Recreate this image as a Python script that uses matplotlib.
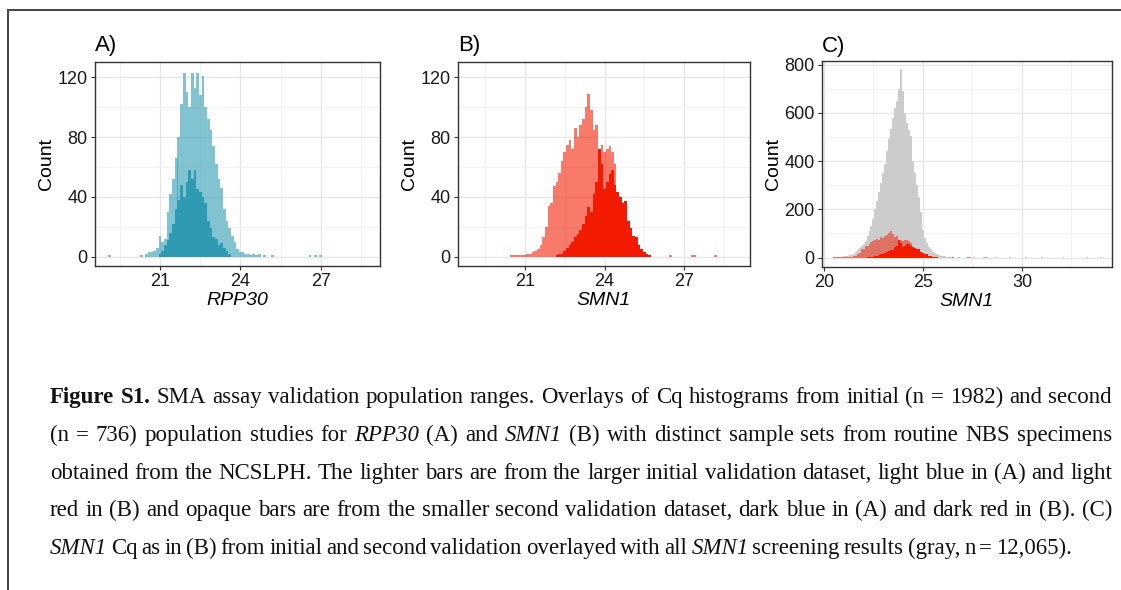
import matplotlib
matplotlib.use("Agg")
import matplotlib.pyplot as plt
from matplotlib.lines import Line2D

W, H = 1121, 590
BINW = 0.1

# ---------------- data (bin centres, counts) ----------------
# Panel A: RPP30, initial validation (light) and second validation (dark)
a_init_x = [19.1, 20.3, 20.5, 20.6, 20.7, 20.8, 20.9, 21.0, 21.1, 21.2, 21.3, 21.4,
            21.5, 21.6, 21.7, 21.8, 21.9, 22.0, 22.1, 22.2, 22.3, 22.4, 22.5, 22.6,
            22.7, 22.8, 22.9, 23.0, 23.1, 23.2, 23.3, 23.4, 23.5, 23.6, 23.7, 23.8,
            23.9, 24.0, 24.1, 24.2, 24.3, 24.4, 24.5, 24.6, 24.7, 24.9, 25.2, 26.6,
            26.8, 27.0]
a_init_n = [1, 1, 2, 3, 3, 4, 6, 14, 10, 12, 30, 42,
            52, 66, 80, 102, 123, 110, 100, 123, 113, 123, 108, 121,
            100, 92, 85, 74, 62, 52, 46, 32, 24, 19, 14, 10,
            5, 3, 3, 2, 2, 1, 2, 1, 2, 1, 1, 1,
            1, 1]
a_sec_x = [21.0, 21.1, 21.2, 21.3, 21.4, 21.5, 21.6, 21.7, 21.8, 21.9, 22.0, 22.1,
           22.2, 22.3, 22.4, 22.5, 22.6, 22.7, 22.8, 22.9, 23.0, 23.1, 23.2, 23.3,
           23.4, 23.5, 23.6]
a_sec_n = [2, 4, 8, 11, 16, 22, 32, 38, 48, 40, 50, 58,
           52, 58, 45, 43, 40, 36, 24, 19, 13, 12, 8, 9,
           6, 4, 2]

# Panel B: SMN1, initial validation (light) and second validation (dark)
b_init_x = [20.5, 20.6, 20.7, 20.8, 20.9, 21.0, 21.1, 21.2, 21.3, 21.4, 21.5, 21.6,
            21.7, 21.8, 21.9, 22.0, 22.1, 22.2, 22.3, 22.4, 22.5, 22.6, 22.7, 22.8,
            22.9, 23.0, 23.1, 23.2, 23.3, 23.4, 23.5, 23.6, 23.7, 23.8, 23.9, 24.0,
            24.1, 24.2, 24.3, 24.4, 24.5, 24.6, 24.7, 24.8, 24.9, 25.0, 25.1, 25.2,
            25.3, 25.4, 25.5, 25.6, 25.7, 26.5, 27.3, 27.4, 28.2]
b_init_n = [1, 1, 1, 1, 1, 1, 2, 2, 3, 4, 5, 8,
            13, 20, 34, 36, 47, 50, 56, 64, 70, 75, 78, 72,
            86, 80, 88, 92, 100, 109, 98, 85, 88, 68, 75, 70,
            72, 74, 70, 62, 34, 28, 24, 20, 14, 10, 7, 5,
            4, 3, 2, 2, 1, 1, 1, 1, 1]
b_sec_x = [22.2, 22.3, 22.4, 22.5, 22.6, 22.7, 22.8, 22.9, 23.0, 23.1, 23.2, 23.3,
           23.4, 23.5, 23.6, 23.7, 23.8, 23.9, 24.0, 24.1, 24.2, 24.3, 24.4, 24.5,
           24.6, 24.7, 24.8, 24.9, 25.0, 25.1, 25.2, 25.3, 25.4, 25.5, 25.6, 25.7]
b_sec_n = [1, 2, 2, 4, 6, 8, 10, 13, 15, 18, 22, 27,
           33, 30, 42, 50, 72, 62, 45, 50, 55, 58, 48, 43,
           40, 36, 37, 24, 19, 14, 13, 8, 5, 3, 2, 1]

# Panel C: all SMN1 screening results (gray)
c_all_x = [20.5, 20.6, 20.7, 20.8, 20.9, 21.0, 21.1, 21.2, 21.3, 21.4, 21.5, 21.6,
           21.7, 21.8, 21.9, 22.0, 22.1, 22.2, 22.3, 22.4, 22.5, 22.6, 22.7, 22.8,
           22.9, 23.0, 23.1, 23.2, 23.3, 23.4, 23.5, 23.6, 23.7, 23.8, 23.9, 24.0,
           24.1, 24.2, 24.3, 24.4, 24.5, 24.6, 24.7, 24.8, 24.9, 25.0, 25.1, 25.2,
           25.3, 25.4, 25.5, 25.6, 25.7, 25.8, 25.9, 26.0, 26.1, 26.2, 26.3, 26.4,
           26.5, 26.8, 27.2, 27.6, 28.1, 28.7, 29.4, 30.2, 31.0, 32.1, 33.3, 34.0]
c_all_n = [2, 2, 3, 3, 4, 5, 6, 8, 10, 12, 15, 22,
           32, 40, 50, 58, 70, 90, 110, 130, 160, 200, 235, 270,
           310, 350, 390, 440, 490, 535, 580, 620, 650, 700, 780, 690,
           600, 560, 530, 505, 400, 350, 300, 250, 190, 115, 80, 60,
           45, 35, 25, 18, 14, 10, 8, 6, 5, 4, 3, 3,
           2, 2, 2, 2, 1, 1, 1, 1, 1, 1, 1, 1]

# ---------------- styling ----------------
BLUE = "#2F9BB3"
RED = "#F21A00"
GRAY = "#CCCCCC"
BORDER = "#333333"
GRID_MAJ = "#E6E6E6"
GRID_MIN = "#F2F2F2"
SANS = ["Liberation Sans", "DejaVu Sans"]
SERIF = ["Liberation Serif", "DejaVu Serif"]

plt.rcParams["font.family"] = SANS

fig = plt.figure(figsize=(W / 100, H / 100), dpi=100)
fig.patch.set_facecolor("white")


def px_axes(left, top, right, bottom):
    return fig.add_axes([left / W, 1 - bottom / H, (right - left) / W, (bottom - top) / H])


def style_axes(ax, xlim, ylim, xmaj, xmin, ymaj, ymin, xlabel, tag, tag_y=1.03):
    ax.set_xlim(*xlim)
    ax.set_ylim(*ylim)
    ax.set_xticks(xmaj)
    ax.set_xticks(xmin, minor=True)
    ax.set_yticks(ymaj)
    ax.set_yticks(ymin, minor=True)
    ax.set_axisbelow(True)
    ax.grid(True, which="major", color=GRID_MAJ, lw=1.0)
    ax.grid(True, which="minor", color=GRID_MIN, lw=0.8)
    for s in ax.spines.values():
        s.set_color(BORDER)
        s.set_linewidth(1.0)
    ax.tick_params(which="major", length=3.2, width=0.8, color=BORDER,
                   labelsize=13, labelcolor="#1a1a1a", pad=2)
    ax.tick_params(which="minor", length=0)
    ax.set_xlabel(xlabel, fontsize=14, style="italic", labelpad=1, color="black")
    ax.set_ylabel("Count", fontsize=14, labelpad=2, color="black")
    ax.text(0.0, tag_y, tag, transform=ax.transAxes, fontsize=16, ha="left",
            va="bottom", color="black")


# Panel A
axA = px_axes(95, 62, 380, 266)
axA.bar(a_init_x, a_init_n, width=BINW, color=BLUE, alpha=0.6, lw=0)
axA.bar(a_sec_x, a_sec_n, width=BINW, color=BLUE, lw=0)
style_axes(axA, (18.57, 29.21), (-6.2, 130.2), [21, 24, 27], [19.5, 22.5, 25.5, 28.5],
           [0, 40, 80, 120], [20, 60, 100], "RPP30", "A)")

# Panel B
axB = px_axes(458, 62, 750, 266)
axB.bar(b_init_x, b_init_n, width=BINW, color=RED, alpha=0.58, lw=0)
axB.bar(b_sec_x, b_sec_n, width=BINW, color=RED, lw=0)
style_axes(axB, (18.47, 29.49), (-6.2, 130.2), [21, 24, 27], [19.5, 22.5, 25.5, 28.5],
           [0, 40, 80, 120], [20, 60, 100], "SMN1", "B)")

# Panel C
axC = px_axes(822, 61, 1112, 267)
axC.bar(c_all_x, c_all_n, width=BINW, color=GRAY, lw=0)
axC.bar(b_init_x, b_init_n, width=BINW, color=RED, alpha=0.5, lw=0)
axC.bar(b_sec_x, b_sec_n, width=BINW, color=RED, lw=0)
style_axes(axC, (19.9, 34.55), (-39, 815), [20, 25, 30], [22.5, 27.5, 32.5],
           [0, 200, 400, 600, 800], [100, 300, 500, 700], "SMN1", "C)", tag_y=1.02)

# Frame lines
fig.add_artist(Line2D([7.5 / W, 1.0], [1 - 10 / H, 1 - 10 / H], transform=fig.transFigure,
                      color="#444444", lw=1.4))
fig.add_artist(Line2D([7.5 / W, 7.5 / W], [1 - 10 / H, 0.0], transform=fig.transFigure,
                      color="#444444", lw=1.4))

# ---------------- caption (justified) ----------------
cap_lines = [
    [("Figure S1.", "b"), (" SMA assay validation population ranges. Overlays of Cq histograms from initial (n = 1982) and second", "n")],
    [("(n = 736) population studies for ", "n"), ("RPP30", "i"), (" (A) and ", "n"), ("SMN1", "i"),
     (" (B) with distinct sample sets from routine NBS specimens", "n")],
    [("obtained from the NCSLPH. The lighter bars are from the larger initial validation dataset, light blue in (A) and light", "n")],
    [("red in (B) and opaque bars are from the smaller second validation dataset, dark blue in (A) and dark red in (B). (C)", "n")],
    [("SMN1", "i"), (" Cq as in (B) from initial and second validation overlayed with all ", "n"), ("SMN1", "i"),
     (" screening results (gray, n = 12,065).", "n")],
]
baselines = [403, 441, 479, 516, 554]
X0, X1 = 50, 1112
LAST_END = 1072

fig.canvas.draw()
rend = fig.canvas.get_renderer()


def styles(fs):
    base = dict(family=SERIF, fontsize=fs, color="#111111")
    return {"n": base, "b": dict(base, weight="bold"), "i": dict(base, style="italic")}


def width_of(word, st):
    t = fig.text(0, 0, word, **st)
    w = t.get_window_extent(renderer=rend).width
    t.remove()
    return w


def line_words(segs):
    words = []
    for txt, key in segs:
        for w in txt.split():
            words.append((w, key))
    return words


# choose a font size so that the natural line width fits the column
fs = 16.5
while True:
    S = styles(fs)
    sp_w = width_of("a a", S["n"]) - width_of("aa", S["n"])
    ok = True
    for segs in cap_lines[:-1]:
        words = line_words(segs)
        nat = sum(width_of(w, S[k]) for w, k in words) + sp_w * 0.8 * (len(words) - 1)
        if nat > X1 - X0:
            ok = False
            break
    if ok:
        break
    fs -= 0.25

S = styles(fs)
sp_w = width_of("a a", S["n"]) - width_of("aa", S["n"])
for li, (segs, yb) in enumerate(zip(cap_lines, baselines)):
    words = line_words(segs)
    widths = [width_of(w, S[k]) for w, k in words]
    if li < len(cap_lines) - 1:
        gap = (X1 - X0 - sum(widths)) / (len(words) - 1)
    else:
        gap = max(sp_w * 0.6, min(sp_w, (LAST_END - X0 - sum(widths)) / (len(words) - 1)))
    x = X0
    for (w, k), wd in zip(words, widths):
        fig.text(x / W, 1 - yb / H, w, ha="left", va="baseline", **S[k])
        x += wd + gap

fig.savefig("out.png", dpi=100, facecolor="white")
